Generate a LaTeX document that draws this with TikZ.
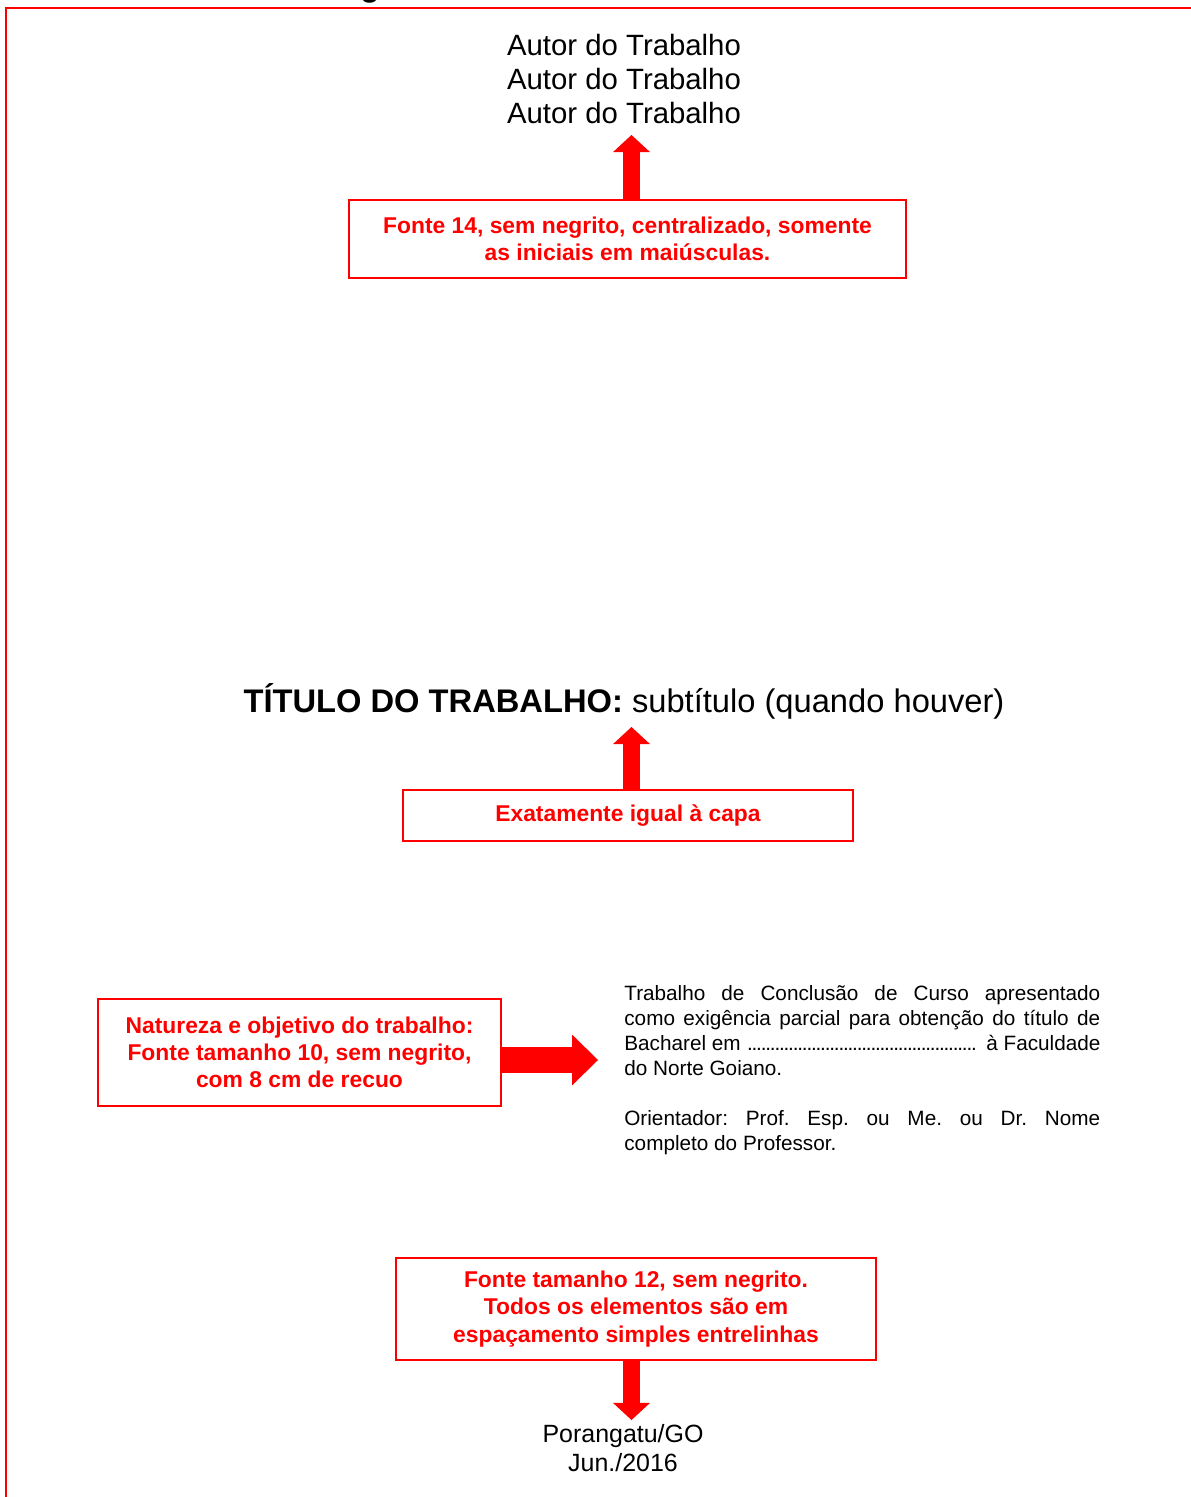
\documentclass[tikz,border=0pt]{standalone}
\usepackage{fontspec}
\setmainfont{Liberation Sans}
\usetikzlibrary{arrows.meta}
\definecolor{vermelho}{RGB}{255,0,0}
\newcommand{\pontilhado}{\leaders\hbox to 2.6pt{\hss.\hss}\hfill}
\tikzset{
	nota/.style = {draw = vermelho, line width = 1.1pt, text = vermelho,
		font = \fontsize{13}{15.5}\selectfont\bfseries, align = center, inner sep = 0pt},
	seta/.style = {draw = vermelho, line width = 9.7pt,
		-{Triangle[width = 21pt, length = 9.7pt, line width = 0pt]}},
	setagrande/.style = {draw = vermelho, line width = 14.8pt,
		-{Triangle[width = 29pt, length = 14.8pt, line width = 0pt]}},
	moldura/.style = {draw = vermelho, line width = 1.2pt}
}
\begin{document}
\begin{tikzpicture}[x = 0.02cm, y = -0.02cm]
	\useasboundingbox (0, 0) rectangle (1190, 1497);
	
	% frame
	\draw[moldura] (6, 1510) -- (6, 8) -- (1200, 8);
	\node[anchor = base, font = \fontsize{18}{20}\selectfont\bfseries] (cabecalho) at (370, -3) {g};
	
	% author
	\node[align = center, inner sep = 0pt, font = \fontsize{16.7}{19.3}\selectfont] (autor) at (624, 79)
	{Autor do Trabalho\\Autor do Trabalho\\Autor do Trabalho};
	\node[nota, minimum width = 11.14cm, minimum height = 1.56cm] (fonte) at (627.5, 239)
	{Fonte 14, sem negrito, centralizado, somente\\as iniciais em maiúsculas.};
	\coordinate (autorTip) at (631.5, 135);
	\draw[seta] (autorTip |- fonte.north) -- (autorTip);
	
	% title
	\node[inner sep = 0pt, font = \fontsize{18.6}{21}\selectfont] (titulo) at (624, 701)
	{\textbf{TÍTULO DO TRABALHO:} subtítulo (quando houver)};
	\node[nota, minimum width = 9cm, minimum height = 1.02cm] (igual) at (628, 815.5)
	{Exatamente igual à capa};
	\coordinate (tituloTip) at (631.5, 727);
	\draw[seta] (tituloTip |- igual.north) -- (tituloTip);
	
	% nature
	\node[nota, minimum width = 8.06cm, minimum height = 2.14cm] (natureza) at (299.5, 1052.5)
	{Natureza e objetivo do trabalho:\\Fonte tamanho 10, sem negrito,\\com 8 cm de recuo};
	\node[anchor = north west, text width = 9.52cm, align = justify, inner sep = 0pt,
		font = \fontsize{11.8}{14.2}\selectfont\frenchspacing] (objetivo) at (624, 985)
	{Trabalho de Conclusão de Curso apresentado\linebreak
		como exigência parcial para obtenção do título de\linebreak
		Bacharel em \pontilhado\ à Faculdade\linebreak
		do Norte Goiano.\par\vspace{\baselineskip}
		Orientador: Prof. Esp. ou Me. ou Dr. Nome\linebreak
		completo do Professor.};
	\coordinate (naturezaTip) at (598, 1060);
	\draw[setagrande] (naturezaTip -| natureza.east) -- (naturezaTip);
	
	% place and date
	\node[nota, minimum width = 9.6cm, minimum height = 2.04cm] (espaco) at (636, 1309)
	{Fonte tamanho 12, sem negrito.\\Todos os elementos são em\\espaçamento simples entrelinhas};
	\node[align = center, inner sep = 0pt, font = \fontsize{14.2}{17}\selectfont] (local) at (623, 1448)
	{Porangatu/GO\\Jun./2016};
	\coordinate (localTip) at (631.5, 1420);
	\draw[seta] (localTip |- espaco.south) -- (localTip);
	
\end{tikzpicture}
\end{document}
